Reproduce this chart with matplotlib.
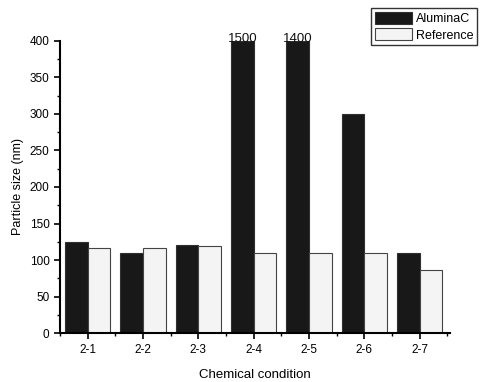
import matplotlib
matplotlib.use("Agg")
import matplotlib.pyplot as plt
from matplotlib.ticker import MultipleLocator
import numpy as np

plt.rcParams['font.family'] = ['Liberation Sans', 'DejaVu Sans']

# data
conditions = ['2-1', '2-2', '2-3', '2-4', '2-5', '2-6', '2-7']
alumina = [125, 110, 121, 1500, 1400, 300, 110]
reference = [117, 117, 119, 110, 110, 109, 87]
ymax = 400

fig = plt.figure(figsize=(4.84, 3.82), dpi=100)
ax = fig.add_axes([0.124, 0.128, 0.806, 0.765])

x = np.arange(1, len(conditions) + 1)
w = 0.41
shown = np.minimum(alumina, ymax)
ax.bar(x - w / 2, shown, w, color='#181818', edgecolor='#303030', linewidth=0.8, label='AluminaC')
ax.bar(x + w / 2, reference, w, color='#f4f4f4', edgecolor='#444444', linewidth=0.8, label='Reference')

# values above the axis limit written on the clipped bars
for xi, v in zip(x, alumina):
    if v > ymax:
        ax.text(xi - w / 2, ymax + 2, str(v), ha='center', va='center', fontsize=9.5, color='#111111')

ax.set_xlim(0.5, 7.55)
ax.set_ylim(0, ymax)
ax.set_xticks(x)
ax.set_xticklabels(conditions)
ax.xaxis.set_minor_locator(MultipleLocator(0.5))
ax.yaxis.set_major_locator(MultipleLocator(50))
ax.yaxis.set_minor_locator(MultipleLocator(25))
ax.tick_params(axis='both', which='major', direction='out', length=4, width=1.2, labelsize=8.5)
ax.tick_params(axis='both', which='minor', direction='out', length=2, width=1)
ax.spines['top'].set_visible(False)
ax.spines['right'].set_visible(False)
ax.spines['left'].set_linewidth(1.5)
ax.spines['bottom'].set_linewidth(1.5)

ax.set_xlabel('Chemical condition', fontsize=9.5, labelpad=10)
ax.set_ylabel('Particle size (nm)', fontsize=9)

fig.legend(loc='upper right', bbox_to_anchor=(0.999, 0.995), fontsize=9, frameon=True,
           fancybox=False, edgecolor='black', handlelength=3.0, handleheight=1.1,
           borderpad=0.3, labelspacing=0.25, handletextpad=0.3)

fig.savefig('out.png', dpi=100)
